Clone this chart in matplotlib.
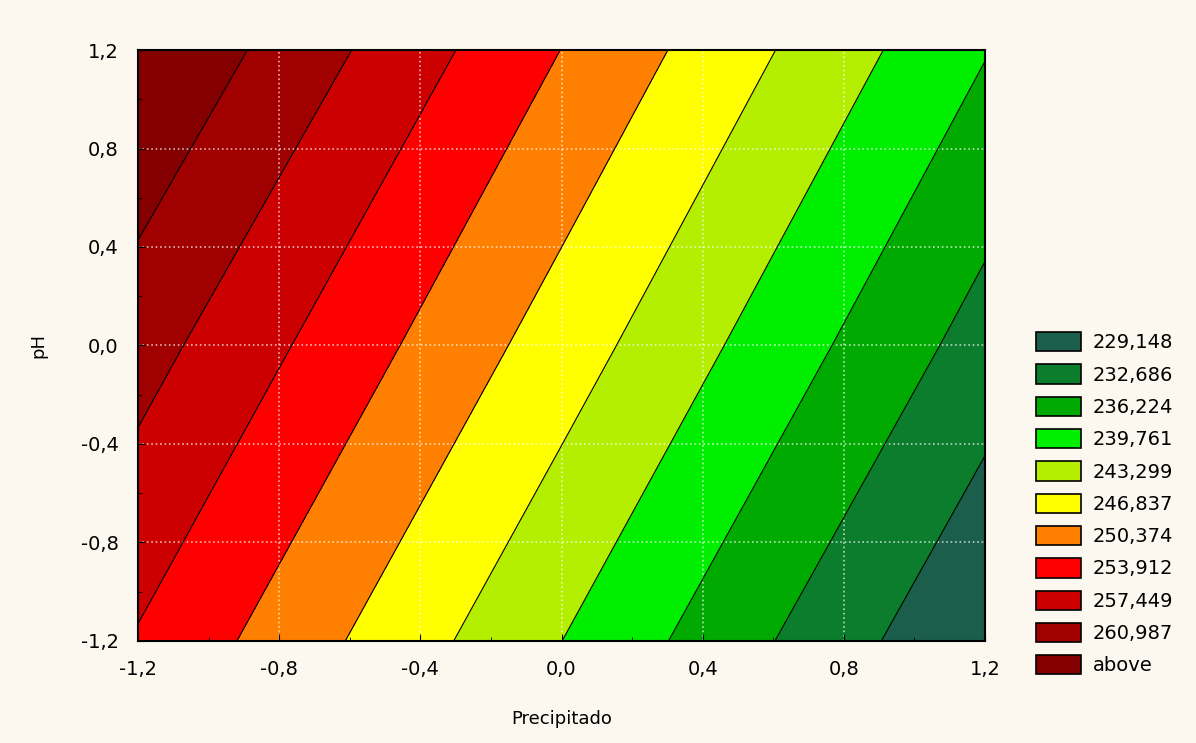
import numpy as np
import matplotlib
matplotlib.use("Agg")
import matplotlib.pyplot as plt
from matplotlib.patches import Patch

plt.rcParams['font.family'] = ['DejaVu Sans']

# grid of fitted response values
precipitado = [-1.2, 0.0, 1.2]
ph = [-1.2, 0.0, 1.2]
# rows = pH, columns = Precipitado
response = [
    [253.60, 239.78, 225.70],
    [258.93, 245.10, 231.20],
    [264.70, 250.33, 236.42],
]

levels = [229.148, 232.686, 236.224, 239.761, 243.299, 246.837,
          250.374, 253.912, 257.449, 260.987]
legend_labels = ["229,148", "232,686", "236,224", "239,761", "243,299",
                 "246,837", "250,374", "253,912", "257,449", "260,987", "above"]
colors = ["#1b5e4b", "#0b7d2c", "#00aa00", "#00ee00", "#b4ee00",
          "#ffff00", "#ff8000", "#ff0000", "#cc0000", "#a00000", "#840000"]

ticks = [-1.2, -0.8, -0.4, 0.0, 0.4, 0.8, 1.2]
tick_labels = ["-1,2", "-0,8", "-0,4", "0,0", "0,4", "0,8", "1,2"]

bg = "#fcf8ef"
fig = plt.figure(figsize=(11.96, 7.43), dpi=100, facecolor=bg)
ax = fig.add_axes([0.1154, 0.1373, 0.7082, 0.7954])

X, Y = np.meshgrid(precipitado, ph)
Z = np.array(response)
lv = [Z.min() - 1] + levels + [Z.max() + 1]
ax.contourf(X, Y, Z, levels=lv, colors=colors)
ax.contour(X, Y, Z, levels=levels, colors="black", linewidths=0.8)

ax.set_xlim(-1.2, 1.2)
ax.set_ylim(-1.2, 1.2)
ax.set_xticks(ticks)
ax.set_xticklabels(tick_labels)
ax.set_yticks(ticks)
ax.set_yticklabels(tick_labels)
ax.set_xticks(np.arange(-1.2, 1.21, 0.2), minor=True)
ax.set_yticks(np.arange(-1.2, 1.21, 0.2), minor=True)
ax.tick_params(which="major", direction="in", length=5, labelsize=14, color="black", pad=14)
ax.tick_params(which="minor", direction="in", length=3, color="black")
ax.grid(True, which="major", color="white", linestyle=":", linewidth=1.2, alpha=0.7)
for s in ax.spines.values():
    s.set_linewidth(1.5)
    s.set_color("black")

ax.set_xlabel("Precipitado", fontsize=13, labelpad=22)
ax.set_ylabel("pH", fontsize=13, labelpad=24)

handles = [Patch(facecolor=c, edgecolor="black", linewidth=1.2) for c in colors]
fig.legend(handles, legend_labels, loc="upper left", bbox_to_anchor=(0.8585, 0.566),
           frameon=False, fontsize=14, handlelength=2.3, handleheight=1.15,
           labelspacing=0.62, handletextpad=0.6, borderpad=0)

fig.savefig("out.png", dpi=100, facecolor=bg)
